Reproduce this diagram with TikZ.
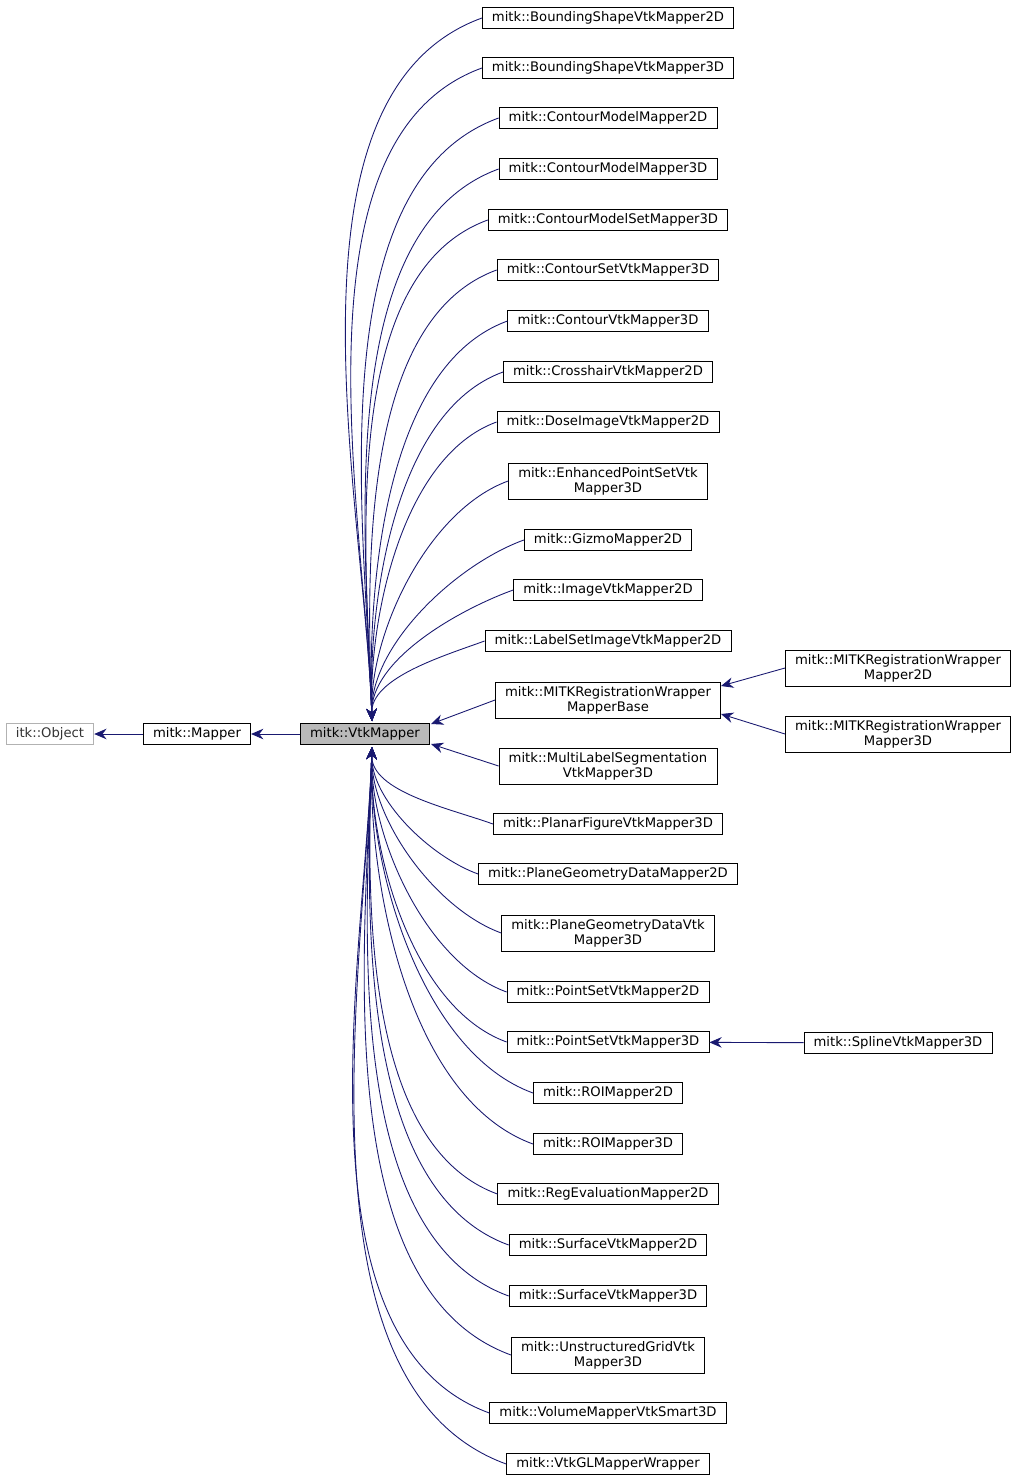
\documentclass[tikz,border=0pt]{standalone}
\usepackage{fontspec}
\setmainfont{DejaVu Sans}
\usetikzlibrary{arrows.meta}
\definecolor{edgeblue}{RGB}{25,25,112}
\tikzset{
  cls/.style={draw=black,fill=white,align=center,font=\fontsize{7.5}{8.5}\selectfont,inner xsep=5.5pt,inner ysep=2.4pt,line width=0.5pt},
  ext/.style={cls,draw=gray!60,text=black!80},
  cur/.style={cls,fill=gray!55},
  edge/.style={draw=edgeblue,line width=0.5pt,{Stealth[length=7pt,width=6pt]}-}
}
\begin{document}
\begin{tikzpicture}[x=0.02cm,y=-0.02cm]
  \useasboundingbox (0,0) rectangle (1017,1484);
  \node[ext] (itkobj) at (50,734) {itk::Object};
  \node[cls] (mapper) at (197,734) {mitk::Mapper};
  \node[cur] (vtkmapper) at (365,734) {mitk::VtkMapper};
  \draw[edge] (itkobj) -- (mapper);
  \draw[edge] (mapper) -- (vtkmapper);
  % derived classes
  \foreach \i/\y/\t in {
    1/18/{mitk::BoundingShapeVtkMapper2D},
    2/68/{mitk::BoundingShapeVtkMapper3D},
    3/118/{mitk::ContourModelMapper2D},
    4/169/{mitk::ContourModelMapper3D},
    5/220/{mitk::ContourModelSetMapper3D},
    6/270/{mitk::ContourSetVtkMapper3D},
    7/321/{mitk::ContourVtkMapper3D},
    8/372/{mitk::CrosshairVtkMapper2D},
    9/422/{mitk::DoseImageVtkMapper2D},
    10/481/{mitk::EnhancedPointSetVtk\\Mapper3D},
    11/540/{mitk::GizmoMapper2D},
    12/590/{mitk::ImageVtkMapper2D},
    13/641/{mitk::LabelSetImageVtkMapper2D},
    14/700/{mitk::MITKRegistrationWrapper\\MapperBase},
    15/766/{mitk::MultiLabelSegmentation\\VtkMapper3D},
    16/824/{mitk::PlanarFigureVtkMapper3D},
    17/874/{mitk::PlaneGeometryDataMapper2D},
    18/933/{mitk::PlaneGeometryDataVtk\\Mapper3D},
    19/992/{mitk::PointSetVtkMapper2D},
    20/1042/{mitk::PointSetVtkMapper3D},
    21/1093/{mitk::ROIMapper2D},
    22/1144/{mitk::ROIMapper3D},
    23/1194/{mitk::RegEvaluationMapper2D},
    24/1245/{mitk::SurfaceVtkMapper2D},
    25/1296/{mitk::SurfaceVtkMapper3D},
    26/1355/{mitk::UnstructuredGridVtk\\Mapper3D},
    27/1413/{mitk::VolumeMapperVtkSmart3D},
    28/1464/{mitk::VtkGLMapperWrapper}}
    \node[cls] (sub\i) at (608,\y) {\t};
  \foreach \i in {1,...,13}
    \draw[edge] (372,721) to[out=92,in=200,looseness=0.8] (sub\i.west);
  \foreach \i in {16,...,28}
    \draw[edge] (372,747) to[out=-92,in=160,looseness=0.8] (sub\i.west);
  \draw[edge] (431,724) -- (sub14.west);
  \draw[edge] (431,744) -- (sub15.west);
  % second level
  \node[cls] (regwrap2d) at (898,668) {mitk::MITKRegistrationWrapper\\Mapper2D};
  \node[cls] (regwrap3d) at (898,734) {mitk::MITKRegistrationWrapper\\Mapper3D};
  \node[cls] (spline) at (898,1043) {mitk::SplineVtkMapper3D};
  \draw[edge] (sub14.east) ++(0,-14) -- (regwrap2d.west);
  \draw[edge] (sub14.east) ++(0,14) -- (regwrap3d.west);
  \draw[edge] (sub20) -- (spline);
\end{tikzpicture}
\end{document}
